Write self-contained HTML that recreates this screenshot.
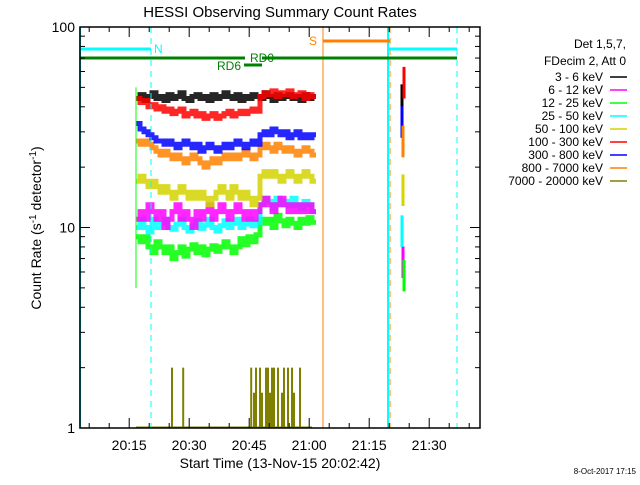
<!DOCTYPE html>
<html><head><meta charset="utf-8"><style>
body{margin:0;background:#fff;}
svg text{font-family:"Liberation Sans",sans-serif;}
</style></head><body>
<svg id="c" width="640" height="480" viewBox="0 0 640 480">
<rect width="640" height="480" fill="#fff"/>
<text x="280" y="17" font-size="15" text-anchor="middle">HESSI Observing Summary Count Rates</text>
<g id="plot"></g>
<text x="280" y="468" font-size="14" text-anchor="middle">Start Time (13-Nov-15 20:02:42)</text>
<text transform="translate(41,228) rotate(-90)" font-size="14" text-anchor="middle">Count Rate (s<tspan dy="-5" font-size="10">-1</tspan><tspan dy="5"> detector</tspan><tspan dy="-5" font-size="10">-1</tspan><tspan dy="5">)</tspan></text>
<text x="636" y="474" font-size="8" text-anchor="end">8-Oct-2017 17:15</text>
<g id="legend"></g>
</svg>
<script>
// data (minutes since 20:02:42)
const startMin = 14;
const black = [44,46,43,45,47,44,45,43,46,44,45,47,44,43,45,46,44,45,43,46,44,45,47,45,44,46,43,45,44,46,45,44,47,45,43,46,44,45,46,44,45,43,46,44,45];
const red = [44,42,43,40,41,39,40,38,39,37,38,39,36,37,38,36,37,35,36,37,35,36,37,38,36,37,38,37,38,39,38,45,47,46,48,45,47,46,48,45,46,47,44,46,45];
const blue = [33,31,30,29,28,27,27,26,27,26,25,26,27,26,25,26,24,25,26,25,24,25,26,25,26,27,26,25,26,27,26,29,30,29,31,30,29,30,28,29,30,28,29,28,29];
const orange = [27,26,27,26,25,24,23,24,23,22,23,22,21,22,23,22,21,20,21,22,21,22,23,22,23,22,23,24,23,22,23,25,26,25,24,26,25,24,25,24,23,24,25,24,23];
const yellow = [17,18,17,16,17,16,15,16,15,14,15,16,15,14,15,14,15,14,13,14,15,16,15,14,16,15,14,15,14,13,14,18,19,18,19,18,17,18,19,18,17,18,19,18,17];
const magenta = [11,12,11,13,12,11,12,10,11,12,13,11,12,11,10,12,11,12,13,11,12,13,12,11,12,13,12,11,12,11,12,13,14,13,12,13,14,13,12,13,12,13,12,13,12];
const cyan = [10,11,10,9.5,11,10,10.5,11,10,9.8,10.4,11,10,9.6,10.2,10.8,9.9,10.3,11,10,9.6,10.2,10.8,10,10.5,11,10,10.4,11,10.2,10.6,13,14,13.5,12.5,14,13,13.5,12.8,14,13,12.5,13.5,13,12];
const green = [9,8.5,9,8,7.5,8.5,8,7.5,8,7,7.5,8,7.2,7.8,8.2,7.5,8,7.3,7.8,8.1,7.6,8,8.5,8,7.5,8,8.8,8.2,9,8.5,9.2,11,10.5,11,10,11.5,10.8,10.2,11,10.5,10,11,10.5,11.2,10.6];
const spikeTime = 80.5;
const spikeVals = [45,7,6,10,16,55,35,28,0];
const oliveTimes = [23,25.8,42.8,43.5,44,45,45.5,46.5,47,47.5,48,48.5,49.5,50.5,51,52,53,53.5,55];
const oliveVals = [2,2,2,1.5,2,2,1.5,2,2,1.5,2,2,2,1.5,2,2,2,1.5,2];
const tickLabels = ["20:15","20:30","20:45","21:00","21:15","21:30"];
const tickTimes = [12.3,27.3,42.3,57.3,72.3,87.3];
const legendLabels = ["3 - 6 keV","6 - 12 keV","12 - 25 keV","25 - 50 keV","50 - 100 keV","100 - 300 keV","300 - 800 keV","800 - 7000 keV","7000 - 20000 keV"];
const colors = ["#000","#ff00ff","#00ff00","#00ffff","#d4d400","#ff0000","#0000ff","#ff8000","#808000"];

const NS="http://www.w3.org/2000/svg";
const X0=80,X1=480,Y0=27,Y1=428;
const xs=t=>X0+t*4;
const ys=v=>Y1-(Y1-Y0)/2*Math.log10(v);
const plot=document.getElementById('plot');
function mk(tag,attrs,parent){const e=document.createElementNS(NS,tag);for(const k in attrs)e.setAttribute(k,attrs[k]);(parent||plot).appendChild(e);return e;}

let ol=mk('line',{x1:xs(startMin),x2:xs(58),y1:ys(1)-1,y2:ys(1)-1,stroke:'#808000','stroke-width':1});


oliveTimes.forEach((t,i)=>{
 const l=mk('line',{x1:xs(t),x2:xs(t),y1:ys(1),y2:ys(oliveVals[i]),stroke:'#808000','stroke-width':2});
 
 
});

const series=[[green,'#00ff00','12-25'],[cyan,'#00ffff','25-50'],[magenta,'#ff00ff','6-12'],[yellow,'#d4d400','50-100'],[orange,'#ff8000','800-7000'],[blue,'#0000ff','300-800'],[black,'#000','3-6'],[red,'#ff0000','100-300']];
series.forEach(([arr,col,nm])=>{
 let d='';
 arr.forEach((v,i)=>{
  const x0=xs(startMin+i),x1=xs(startMin+i+1);
  d+=(i?'L':'M')+x0.toFixed(1)+' '+ys(v).toFixed(1)+'L'+x1.toFixed(1)+' '+ys(v).toFixed(1);
 });
 const p=mk('path',{d:d,fill:'none',stroke:col,'stroke-width':5,'stroke-opacity':0.85});
 
 
});
let il=mk('line',{x1:xs(startMin),x2:xs(startMin),y1:ys(50),y2:ys(5),stroke:'#00ff00','stroke-width':1});


[0,1,2,3,4,5,6,7].forEach(i=>{
 const v=spikeVals[i];
 const s=mk('line',{x1:xs(spikeTime)+(i%3),x2:xs(spikeTime)+(i%3),y1:ys(v*0.8),y2:ys(v*1.15),stroke:colors[i],'stroke-width':3});
 
 
});

const vls=[[80,'#00ffff',null,2],[151,'#00ffff','6,5',1],[323,'#ff8000',null,1],[388,'#00ffff',null,2],[390,'#ff8000','6,5',1],[457,'#00ffff','6,5',1]];
vls.forEach(([x,c,da,w])=>{
 const a={x1:x,x2:x,y1:Y0,y2:Y1,stroke:c,'stroke-width':w};if(da)a['stroke-dasharray']=da;
 const l=mk('line',a);
 
 
});
const hb=[[80,151,49,'#00ffff',3],[388,457,49,'#00ffff',3],[80,245,58,'#008000',3],[262,457,58,'#008000',3],[323,390,41,'#ff8000',3],[244,262,65,'#008000',3]];
hb.forEach(([a,b,y,c,w])=>{
 const l=mk('line',{x1:a,x2:b,y1:y,y2:y,stroke:c,'stroke-width':w});
 
 
});
[['N',154,53,'#00ffff'],['S',309,45,'#ff8000'],['RD0',250,62,'#008000'],['RD6',217,70,'#008000']].forEach(([t,x,y,c])=>{
 const e=mk('text',{x:x,y:y,fill:c,'font-size':12});e.textContent=t;
 
 
});

let bx=mk('rect',{x:X0,y:Y0,width:X1-X0,height:Y1-Y0,fill:'none',stroke:'#000','stroke-width':1.5});


for(let m=5;m<=100;m+=5){const t=m-2.7;const x=xs(t);if(x<=X0||x>=X1)continue;
 const big=(m%15===0);const L=big?10:5;
 const a=mk('line',{x1:x,x2:x,y1:Y1,y2:Y1-L,stroke:'#000'});
 const b=mk('line',{x1:x,x2:x,y1:Y0,y2:Y0+L,stroke:'#000'});}
tickLabels.forEach((s,i)=>{const e=mk('text',{x:xs(tickTimes[i]),y:Y1+22,'font-size':14,'text-anchor':'middle'});e.textContent=s;
 });
for(let d=0;d<2;d++)for(let k=1;k<=9;k++){const v=Math.pow(10,d)*k;const y=ys(v);const L=k===1?10:5;
 const a=mk('line',{x1:X0,x2:X0+L,y1:y,y2:y,stroke:'#000'});
 const b=mk('line',{x1:X1,x2:X1-L,y1:y,y2:y,stroke:'#000'});}
[['1',1],['10',10],['100',100]].forEach(([s,v])=>{const e=mk('text',{x:X0-5,y:ys(v)+5,'font-size':14,'text-anchor':'end'});e.textContent=s;
 });

const lg=document.getElementById('legend');
[['Det 1,5,7,',48],['FDecim 2, Att 0',65]].forEach(([s,y])=>{const e=mk('text',{x:626,y:y,'font-size':12,'text-anchor':'end'},lg);e.textContent=s;
 });
legendLabels.forEach((s,i)=>{const y=77+i*13;
 const e=mk('text',{x:603,y:y+4,'font-size':12,'text-anchor':'end'},lg);e.textContent=s;
 
 const l=mk('line',{x1:610,x2:627,y1:y,y2:y,stroke:colors[i],'stroke-width':1.5},lg);
 });
</script>
</body></html>
